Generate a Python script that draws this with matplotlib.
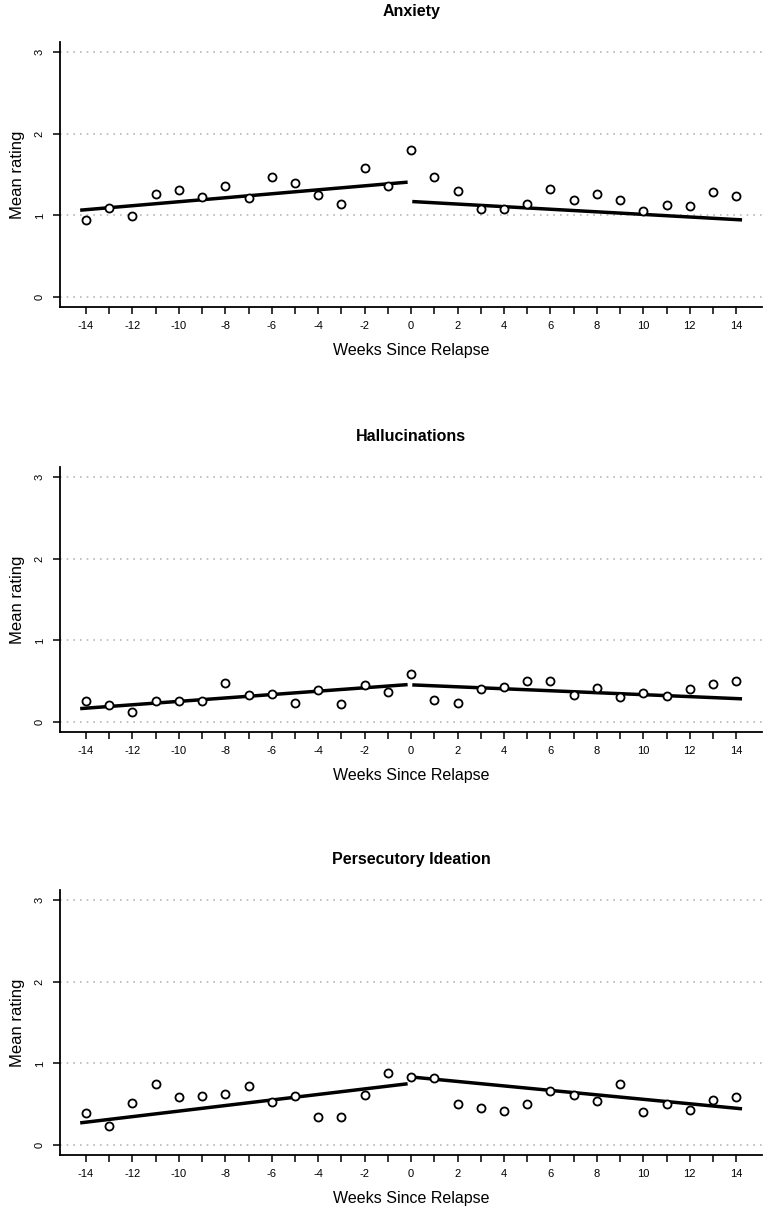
import numpy as np
import matplotlib
matplotlib.use("Agg")
import matplotlib.pyplot as plt

plt.rcParams['font.family'] = ['Liberation Sans', 'DejaVu Sans']

weeks = np.arange(-14, 15)

titles = ["Anxiety", "Hallucinations", "Persecutory Ideation"]

anxiety = [0.944, 1.091, 0.997, 1.259, 1.308, 1.226, 1.357, 1.218, 1.471, 1.398,
           1.255, 1.144, 1.578, 1.365,
           1.794, 1.475, 1.296, 1.079, 1.079, 1.144, 1.324, 1.193, 1.263, 1.185,
           1.050, 1.128, 1.116, 1.292, 1.238]
hallucinations = [0.256, 0.212, 0.126, 0.265, 0.256, 0.265, 0.476, 0.330, 0.350, 0.240,
                  0.391, 0.228, 0.460, 0.374,
                  0.594, 0.277, 0.232, 0.403, 0.436, 0.501, 0.501, 0.330, 0.423, 0.305,
                  0.362, 0.322, 0.411, 0.464, 0.501]
persecutory = [0.388, 0.229, 0.518, 0.743, 0.592, 0.596, 0.629, 0.722, 0.527, 0.600,
               0.347, 0.347, 0.608, 0.886,
               0.829, 0.820, 0.502, 0.449, 0.416, 0.502, 0.657, 0.612, 0.535, 0.743,
               0.408, 0.502, 0.429, 0.547, 0.584]
series = [anxiety, hallucinations, persecutory]

# fitted segments: (intercept at week 0, slope) before and after relapse
pre_fit = [(1.41, 0.0243), (0.463, 0.0208), (0.756, 0.0339)]
post_fit = [(1.17, -0.0158), (0.457, -0.0120), (0.834, -0.0273)]
pre_range = [-14.25, -0.15]
post_range = [0.05, 14.25]

fig = plt.figure(figsize=(7.65, 12.13), dpi=100)
bottoms = [0.7469, 0.3965, 0.0478]
left, width, height = 0.0784, 0.918, 0.2185

for i in range(3):
    ax = fig.add_axes([left, bottoms[i], width, height])
    for g in [0, 1, 2, 3]:
        ax.axhline(g, color='#b8b8b8', linestyle=(0, (1, 3)), linewidth=1.2, zorder=0)

    xs = np.array(pre_range)
    ax.plot(xs, pre_fit[i][0] + pre_fit[i][1] * xs, color='black', linewidth=2.5,
            solid_capstyle='butt')
    xs = np.array(post_range)
    ax.plot(xs, post_fit[i][0] + post_fit[i][1] * xs, color='black', linewidth=2.5,
            solid_capstyle='butt')
    ax.plot(weeks, series[i], linestyle='none', marker='o', markersize=5.8,
            markerfacecolor='white', markeredgecolor='black', markeredgewidth=1.3, zorder=3)

    ax.set_xlim(-15.12, 15.12)
    ax.set_ylim(-0.12, 3.12)
    ax.spines['top'].set_visible(False)
    ax.spines['right'].set_visible(False)
    ax.spines['left'].set_linewidth(1.3)
    ax.spines['bottom'].set_linewidth(1.3)

    ax.set_xticks(weeks)
    ax.set_xticklabels([str(w) if w % 2 == 0 else '' for w in weeks])
    ax.set_yticks([0, 1, 2, 3])
    ax.set_yticklabels(['0', '1', '2', '3'], rotation=90, va='center')
    ax.tick_params(axis='both', length=5, width=1.1, labelsize=8, pad=5)
    ax.tick_params(axis='y', pad=6)

    ax.set_title(titles[i], fontsize=11.5, fontweight='bold', pad=19)
    ax.set_ylabel("Mean rating", fontsize=12, labelpad=7)
    ax.set_xlabel("Weeks Since Relapse", fontsize=11.5, labelpad=9)

fig.savefig("out.png", dpi=100)
